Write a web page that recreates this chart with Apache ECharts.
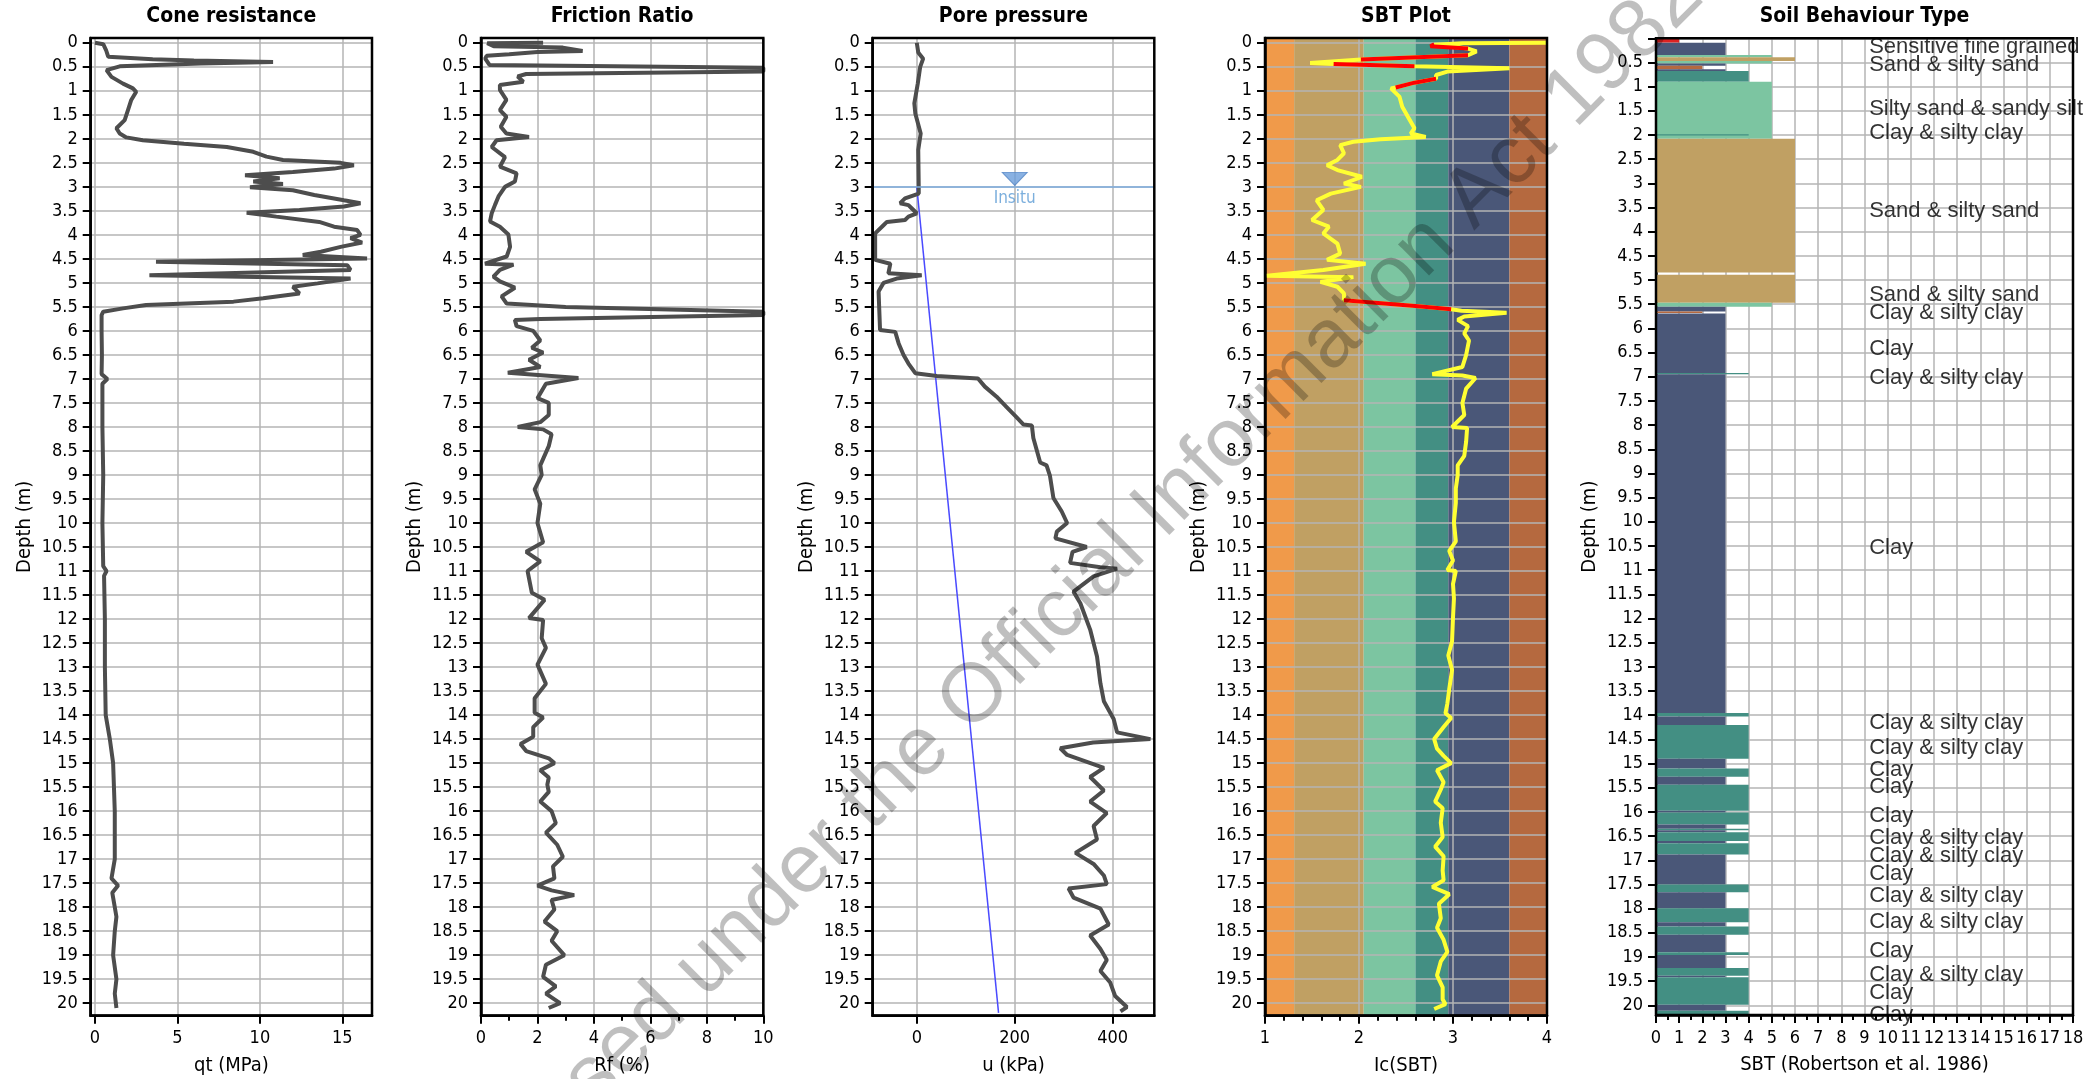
<!DOCTYPE html>
<html><head><meta charset="utf-8">
<script src="https://cdn.jsdelivr.net/npm/echarts@6/dist/echarts.min.js"></script>
<style>html,body{margin:0;padding:0;background:#fff;}#c{width:2100px;height:1079px;}</style>
</head><body><div id="c"></div>
<script>
// ---------------- DATA ----------------
const depthTicks = [0,0.5,1,1.5,2,2.5,3,3.5,4,4.5,5,5.5,6,6.5,7,7.5,8,8.5,9,9.5,10,10.5,11,11.5,12,12.5,13,13.5,14,14.5,15,15.5,16,16.5,17,17.5,18,18.5,19,19.5,20];
const qtTicks = [0,5,10,15];
const uTicks = [0,200,400];

const panelTitles = ['Cone resistance','Friction Ratio','Pore pressure','SBT Plot','Soil Behaviour Type'];
const xNames = ['qt (MPa)','Rf (%)','u (kPa)','Ic(SBT)','SBT (Robertson et al. 1986)'];

// [qt MPa, depth m]
const coneResistance = [[0,0],[0.5,0.03],[0.67,0.15],[0.8,0.29],[3.5,0.34],[6,0.37],[10.8,0.4],[6.4,0.43],[1.5,0.49],[0.7,0.57],[1.0,0.71],[1.7,0.85],[2.3,0.95],[2.5,1.02],[2.2,1.19],[2.0,1.4],[1.8,1.61],[1.3,1.78],[1.5,1.89],[1.9,1.97],[2.9,2.03],[5.4,2.1],[8.0,2.17],[9.6,2.27],[10.4,2.37],[11.4,2.44],[14.9,2.5],[15.7,2.55],[14.5,2.62],[12.0,2.69],[9.1,2.76],[11.2,2.82],[9.6,2.89],[11.4,2.94],[9.4,3.01],[12.0,3.07],[13.3,3.17],[15.1,3.28],[16.1,3.34],[15.1,3.41],[12.4,3.48],[9.2,3.54],[11.0,3.62],[13.6,3.73],[14.5,3.83],[15.9,3.9],[16.1,4.0],[15.5,4.07],[16.2,4.16],[14.9,4.25],[13.7,4.35],[12.6,4.42],[16.5,4.49],[3.7,4.56],[15.3,4.63],[15.5,4.73],[3.3,4.84],[15.5,4.91],[13.5,5.01],[12.0,5.08],[12.4,5.22],[10.2,5.32],[8.4,5.39],[3.1,5.46],[1.7,5.53],[0.5,5.6],[0.4,5.67],[0.4,6.0],[0.42,6.5],[0.4,6.9],[0.75,7.0],[0.45,7.1],[0.45,8],[0.5,9],[0.45,10],[0.5,10.9],[0.7,11.0],[0.55,11.1],[0.6,12],[0.6,13],[0.65,14],[0.9,14.5],[1.1,15],[1.15,15.5],[1.2,16],[1.2,16.5],[1.2,17],[1.0,17.4],[1.4,17.55],[1.05,17.7],[1.1,17.8],[1.2,18],[1.3,18.2],[1.2,18.5],[1.1,19],[1.3,19.5],[1.2,19.8],[1.3,20.1]];

// [Rf %, depth m]
const frictionRatio = [[2.2,0.0],[0.22,0.01],[0.45,0.07],[2.9,0.1],[3.6,0.17],[2.0,0.19],[1.0,0.24],[0.2,0.27],[0.15,0.33],[0.3,0.46],[10,0.52],[10,0.6],[1.6,0.65],[1.3,0.7],[1.5,0.81],[0.67,0.88],[0.67,0.98],[0.9,1.19],[0.67,1.4],[0.9,1.54],[0.7,1.75],[0.9,1.89],[1.7,1.96],[0.55,2.03],[0.38,2.17],[0.85,2.38],[0.67,2.58],[1.26,2.72],[1.2,2.89],[0.85,3.0],[0.62,3.2],[0.5,3.37],[0.38,3.55],[0.32,3.72],[0.67,3.83],[0.97,3.99],[1.03,4.25],[0.91,4.45],[0.14,4.6],[1.15,4.62],[0.67,4.73],[0.44,4.87],[0.67,4.97],[1.2,5.1],[0.73,5.28],[0.91,5.43],[3.0,5.5],[10,5.6],[10,5.67],[2.1,5.75],[1.2,5.77],[1.26,5.9],[1.85,6.0],[2.1,6.2],[1.8,6.35],[2.2,6.45],[1.7,6.6],[2.1,6.75],[0.95,6.87],[3.45,6.98],[2.3,7.1],[2.0,7.4],[2.4,7.5],[2.4,7.75],[2.1,7.9],[1.3,8.0],[2.2,8.05],[2.5,8.15],[2.4,8.4],[2.1,8.8],[2.15,9.0],[1.9,9.3],[2.1,9.6],[2.0,10.0],[2.2,10.4],[1.6,10.6],[2.1,10.8],[1.65,11.0],[1.8,11.45],[2.25,11.6],[1.7,11.98],[2.2,12.02],[2.15,12.4],[2.3,12.6],[2.0,12.95],[2.3,13.35],[1.9,13.65],[1.9,13.95],[2.2,14.05],[1.85,14.25],[1.85,14.45],[1.4,14.6],[1.6,14.75],[2.4,14.9],[2.6,15.0],[2.1,15.15],[2.4,15.3],[2.35,15.45],[2.4,15.6],[2.1,15.8],[2.5,16.0],[2.65,16.25],[2.3,16.45],[2.7,16.7],[2.9,16.95],[2.55,17.15],[2.6,17.4],[2.0,17.55],[2.5,17.65],[3.3,17.75],[2.5,17.85],[2.6,18.05],[2.25,18.3],[2.7,18.5],[2.5,18.7],[2.95,19.0],[2.3,19.2],[2.2,19.45],[2.65,19.65],[2.3,19.8],[2.8,20.0],[2.4,20.1]];

// [u kPa, depth m]
const porePressure = [[0,0],[3,0.2],[13,0.33],[7,0.5],[2,0.85],[-5,1.26],[-3,1.47],[8,1.89],[3,2.23],[4,3.0],[4,3.14],[-24,3.24],[-34,3.34],[-17,3.38],[-10,3.45],[0,3.55],[-17,3.62],[-24,3.69],[-61,3.73],[-68,3.8],[-85,3.97],[-85,4.52],[-54,4.6],[-58,4.8],[10,4.84],[-41,4.91],[-68,5.0],[-78,5.18],[-75,5.98],[-44,6.02],[-37,6.26],[-27,6.5],[-17,6.68],[-3,6.88],[41,6.94],[125,6.99],[139,7.16],[163,7.37],[183,7.58],[203,7.79],[218,7.95],[235,7.97],[238,8.23],[252,8.74],[265,8.8],[272,9.02],[279,9.48],[296,9.76],[307,10.0],[286,10.18],[283,10.32],[347,10.5],[318,10.6],[313,10.83],[375,10.92],[409,10.95],[361,11.11],[320,11.43],[334,11.67],[354,12.22],[368,12.78],[375,13.34],[382,13.71],[402,14.08],[409,14.36],[477,14.5],[360,14.57],[293,14.69],[307,14.83],[382,15.1],[354,15.29],[382,15.57],[354,15.8],[388,16.04],[361,16.31],[368,16.59],[324,16.87],[361,17.1],[382,17.34],[388,17.52],[310,17.61],[320,17.8],[375,18.03],[392,18.36],[354,18.59],[375,18.87],[388,19.1],[375,19.33],[395,19.57],[405,19.85],[429,20.08],[416,20.17]];
const hydrostatic = [[0,3.0],[167,20.2]];
const waterTableDepth = 3.0;
const waterMarker = [[200,3.0]];

// Ic zone boundaries and colours (SBT plot)
const icBands = [[1,1.31],[1.31,2.05],[2.05,2.6],[2.6,2.95],[2.95,3.6],[3.6,4]];
const icBandColors = ['#f09a4a','#c0a063','#7cc5a1','#438f83','#4a5778','#b5693f'];

// [Ic, depth]
const icSbt = [[4.0,0.0],[3.1,0.01],[2.8,0.04],[3.16,0.12],[3.25,0.18],[3.16,0.26],[2.02,0.35],[1.48,0.42],[1.73,0.44],[2.59,0.49],[3.6,0.53],[2.94,0.6],[2.82,0.67],[2.82,0.75],[2.59,0.83],[2.39,0.93],[2.34,0.95],[2.43,1.12],[2.46,1.33],[2.52,1.54],[2.59,1.78],[2.55,1.89],[2.71,1.96],[2.23,2.01],[1.94,2.06],[1.8,2.13],[1.84,2.3],[1.77,2.44],[1.66,2.55],[1.77,2.65],[2.03,2.79],[1.84,2.93],[2.02,3.0],[1.7,3.14],[1.55,3.28],[1.62,3.48],[1.5,3.69],[1.68,3.83],[1.62,3.97],[1.77,4.18],[1.8,4.39],[1.66,4.52],[2.07,4.6],[1.62,4.73],[1.02,4.85],[1.94,4.88],[1.59,4.98],[1.77,5.08],[1.84,5.22],[1.84,5.36],[2.6,5.48],[2.98,5.55],[3.09,5.58],[3.57,5.62],[3.12,5.7],[3.05,5.77],[3.16,5.9],[3.12,6.05],[3.17,6.2],[3.14,6.5],[3.1,6.75],[2.78,6.9],[3.1,6.93],[3.24,6.98],[3.14,7.2],[3.1,7.5],[3.12,7.75],[2.99,8.0],[3.15,8.02],[3.14,8.3],[3.12,8.6],[3.05,8.8],[3.05,9.0],[3.03,9.28],[3.03,9.58],[3.01,9.98],[3.03,10.38],[2.96,10.58],[3.0,10.78],[2.94,10.98],[3.03,11.0],[3.0,11.27],[3.01,11.57],[3.0,11.97],[2.99,12.46],[2.95,12.76],[2.99,13.06],[2.96,13.46],[2.94,13.76],[2.92,13.96],[2.98,14.06],[2.9,14.25],[2.8,14.5],[2.83,14.7],[2.9,14.85],[2.98,15.0],[2.83,15.15],[2.9,15.4],[2.87,15.55],[2.81,15.8],[2.89,15.94],[2.87,16.24],[2.89,16.54],[2.81,16.74],[2.9,16.94],[2.89,17.24],[2.9,17.44],[2.78,17.58],[2.96,17.73],[2.85,17.93],[2.87,18.23],[2.83,18.43],[2.9,18.68],[2.94,18.93],[2.87,19.13],[2.83,19.42],[2.89,19.67],[2.89,19.92],[2.92,20.02],[2.8,20.12]];
const icFlagged = [[2.8,0.03],[2.76,0.07],[3.16,0.12],'-',[3.16,0.26],[2.02,0.35],'-',[1.73,0.44],[2.59,0.49],'-',[2.82,0.75],[2.59,0.83],[2.39,0.93],'-',[1.84,5.36],[2.6,5.48],[2.98,5.55]];

// Soil behaviour type layers: [top, bottom, zone]
const sbtZoneColors = {1:'#dd2222',2:'#b5693f',3:'#4a5778',4:'#438f83',5:'#7cc5a1',6:'#c0a063'};
const sbtLayers = [[0,0.09,1],[0.09,0.345,3],[0.345,0.39,5],[0.39,0.47,6],[0.47,0.52,5],[0.52,0.566,3],[0.566,0.64,2],[0.64,0.675,3],[0.675,0.9,4],[0.9,2.08,5],[1.985,2.01,4],[2.08,4.845,6],[4.89,5.47,6],[5.47,5.55,5],[5.55,5.65,3],[5.65,5.68,2],[5.69,6.92,3],[6.92,6.95,4],[6.95,13.955,3],[13.955,14.025,4],[14.025,14.2,3],[14.2,14.9,4],[14.9,15.1,3],[15.1,15.27,4],[15.27,15.44,3],[15.44,15.975,4],[15.975,16.01,3],[16.01,16.26,4],[16.26,16.35,3],[16.35,16.38,4],[16.38,16.42,3],[16.42,16.6,4],[16.6,16.65,3],[16.65,16.88,4],[16.88,17.5,3],[17.5,17.66,4],[17.66,17.99,3],[17.99,18.28,4],[18.28,18.37,3],[18.37,18.54,4],[18.54,18.9,3],[18.9,18.96,4],[18.96,19.23,3],[19.23,19.39,4],[19.39,19.42,3],[19.42,19.99,4],[19.99,20.11,3],[20.11,20.2,4]];
const sbtLabelDepths = [0.17,0.55,1.47,1.96,3.58,5.3,5.69,6.43,7.03,10.54,14.15,14.68,15.13,15.49,16.09,16.53,16.92,17.28,17.73,18.28,18.88,19.37,19.74,20.19];
const sbtLabelTexts = ['Sensitive fine grained','Sand & silty sand','Silty sand & sandy silt','Clay & silty clay','Sand & silty sand','Sand & silty sand','Clay & silty clay','Clay','Clay & silty clay','Clay','Clay & silty clay','Clay & silty clay','Clay','Clay','Clay','Clay & silty clay','Clay & silty clay','Clay','Clay & silty clay','Clay & silty clay','Clay','Clay & silty clay','Clay','Clay'];
const sbtLabelX = 9.2;

// ---------------- LAYOUT / STYLE ----------------
const FONT = "'DejaVu Sans Condensed','Noto Sans',sans-serif";
const NARROW = "'Liberation Sans Narrow','Arial Narrow','Liberation Sans',sans-serif";
const panels = [
  {left:90.7, width:281.3, top:38, height:977.7},
  {left:481, width:282.3, top:38, height:977.7},
  {left:872.7, width:281.6, top:38, height:977.7},
  {left:1265, width:282, top:38, height:977.7},
  {left:1656, width:417, top:38.3, height:976.7}
];
const GRIDC = '#b4b4b4';

const grids = panels.map(p => ({left:p.left, top:p.top, width:p.width, height:p.height,
  show:true, borderColor:'#000', borderWidth:2.5, backgroundColor:'transparent', z:10,
  containLabel:false, outerBoundsMode:'none'}));

function yAx(i, extra) {
  return Object.assign({
    type:'value', gridIndex:i, inverse:true, min:-0.1, max:20.26,
    name:'Depth (m)', nameLocation:'middle', nameGap:56,
    nameTextStyle:{fontFamily:FONT, fontSize:20, color:'#000'},
    axisLine:{show:true, onZero:false, lineStyle:{color:'#000', width:2.5}},
    axisTick:{show:true, inside:false, length:8, lineStyle:{color:'#000', width:2}, customValues:depthTicks},
    axisLabel:{show:true, margin:13, fontFamily:FONT, fontSize:18, color:'#000', customValues:depthTicks, formatter:v=>String(v), hideOverlap:false},
    splitLine:{show:true, lineStyle:{color:GRIDC, width:1.5}},
    minorTick:{show:false}, minorSplitLine:{show:false}
  }, extra || {});
}
function xAx(i, extra) {
  return Object.assign({
    type:'value', gridIndex:i, position:'bottom',
    name:xNames[i], nameLocation:'middle', nameGap:40,
    nameTextStyle:{fontFamily:FONT, fontSize:20, color:'#000'},
    axisLine:{show:true, onZero:false, lineStyle:{color:'#000', width:2.5}},
    axisTick:{show:true, inside:false, length:8, lineStyle:{color:'#000', width:2}},
    axisLabel:{show:true, margin:14, fontFamily:FONT, fontSize:18, color:'#000', hideOverlap:false, showMinLabel:true, showMaxLabel:true},
    splitLine:{show:true, lineStyle:{color:GRIDC, width:1.5}},
    minorTick:{show:false}, minorSplitLine:{show:false}
  }, extra || {});
}

const xAxes = [
  xAx(0, {min:-0.26, max:16.8,
    axisTick:{show:true, inside:false, length:8, lineStyle:{color:'#000', width:2}, customValues:qtTicks},
    axisLabel:{show:true, margin:14, fontFamily:FONT, fontSize:18, color:'#000', customValues:qtTicks}}),
  xAx(1, {min:0, max:10, interval:2, minorTick:{show:true, splitNumber:2, length:5, lineStyle:{color:'#000', width:2}}}),
  xAx(2, {min:-90, max:485,
    axisTick:{show:true, inside:false, length:8, lineStyle:{color:'#000', width:2}, customValues:uTicks},
    axisLabel:{show:true, margin:14, fontFamily:FONT, fontSize:18, color:'#000', customValues:uTicks}}),
  xAx(3, {min:1, max:4, interval:1, z:3, minorTick:{show:true, splitNumber:5, length:5, lineStyle:{color:'#000', width:2}}}),
  xAx(4, {min:0, max:18, interval:1, minorTick:{show:true, splitNumber:2, length:5, lineStyle:{color:'#000', width:2}}})
];
const yAxes = [
  yAx(0), yAx(1), yAx(2), yAx(3, {z:3}),
  yAx(4, {min:0, max:20.2,
    axisLabel:{show:true, margin:13, fontFamily:FONT, fontSize:18, color:'#000', customValues:depthTicks.filter(v=>v>0), formatter:v=>String(v)}})
];

const titles = panels.map((p,i) => ({text:panelTitles[i], left:p.left + p.width/2, top:6, textAlign:'center', padding:0,
  textStyle:{fontFamily:FONT, fontSize:21, fontWeight:'bold', color:'#000'}}));

const profileStyle = {color:'#4d4d4d', width:4};
const series = [
  {type:'line', xAxisIndex:0, yAxisIndex:0, data:coneResistance, symbol:'none', lineStyle:profileStyle, z:3, silent:true},
  {type:'line', xAxisIndex:1, yAxisIndex:1, data:frictionRatio, symbol:'none', lineStyle:profileStyle, z:3, silent:true},
  {type:'line', xAxisIndex:2, yAxisIndex:2, data:hydrostatic, symbol:'none', lineStyle:{color:'#4a4aff', width:1.5}, z:3, silent:true},
  {type:'line', xAxisIndex:2, yAxisIndex:2, data:porePressure, symbol:'none', lineStyle:profileStyle, z:4, silent:true,
    markLine:{silent:true, symbol:['none','none'], label:{show:false}, lineStyle:{color:'#7eaee0', width:1.5, type:'solid'}, data:[{yAxis:waterTableDepth}]}},
  {type:'scatter', xAxisIndex:2, yAxisIndex:2, data:waterMarker, symbol:'triangle', symbolRotate:180, symbolSize:[25,13], symbolOffset:[0,-8], z:5, silent:true,
    itemStyle:{color:'#6c9ddb', borderColor:'#4f82c4', borderWidth:1},
    label:{show:true, position:'bottom', distance:4, formatter:'Insitu', color:'#5b9bd5', fontSize:17, fontFamily:FONT}},
  {type:'custom', xAxisIndex:3, yAxisIndex:3, data:icBands, z:1, silent:true, encode:{x:[0,1]},
    renderItem:(params, api) => {
      const a = api.coord([api.value(0), -0.1]); const b = api.coord([api.value(1), 20.26]);
      return {type:'rect', shape:{x:a[0], y:a[1], width:b[0]-a[0], height:b[1]-a[1]}, style:{fill:icBandColors[params.dataIndex]}};
    }},
  {type:'line', xAxisIndex:3, yAxisIndex:3, data:icSbt, symbol:'none', lineStyle:{color:'#ffff33', width:4}, z:5, silent:true},
  {type:'line', xAxisIndex:3, yAxisIndex:3, data:icFlagged, symbol:'none', connectNulls:false, lineStyle:{color:'#ff0000', width:4}, z:6, silent:true},
  {type:'custom', xAxisIndex:4, yAxisIndex:4, data:sbtLayers, z:2, silent:true, encode:{x:2, y:[0,1]},
    renderItem:(params, api) => {
      const a = api.coord([0, api.value(0)]); const b = api.coord([api.value(2), api.value(1)]);
      return {type:'rect', shape:{x:a[0], y:a[1], width:b[0]-a[0], height:b[1]-a[1]}, style:{fill:sbtZoneColors[api.value(2)]}};
    }},
  {type:'scatter', xAxisIndex:4, yAxisIndex:4, symbolSize:0, z:6, silent:true,
    data:sbtLabelDepths.map((d,i) => ({value:[sbtLabelX, d], name:sbtLabelTexts[i]})),
    label:{show:true, position:'right', distance:0, formatter:'{b}', color:'#000', fontSize:22, fontFamily:NARROW}}
];

const option = {
  animation:false,
  backgroundColor:'#fff',
  title:titles,
  grid:grids,
  xAxis:xAxes,
  yAxis:yAxes,
  series:series,
  graphic:[{type:'text', x:1057, y:615, rotation:0.785, z:100, silent:true,
    style:{text:'Released under the Official Information Act 1982', fontSize:83, fontFamily:'Liberation Sans', fill:'rgba(0,0,0,0.25)', align:'center', verticalAlign:'middle'}}]
};
const chart = echarts.init(document.getElementById('c'), null, {renderer:'canvas'});
chart.setOption(option);
</script></body></html>
